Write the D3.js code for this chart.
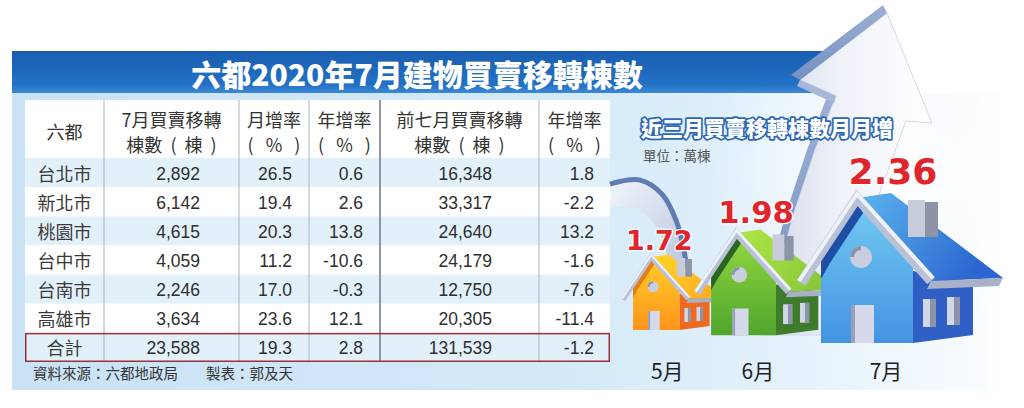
<!DOCTYPE html>
<html>
<head>
<meta charset="utf-8">
<script src="https://cdn.jsdelivr.net/npm/d3@7"></script>
<style>
html, body { margin: 0; padding: 0; background: #fff; }
svg { display: block; }
</style>
</head>
<body>
<svg id="chart" width="1024" height="408"></svg>
<script>
const width = 1024, height = 408;

// ---- data ----
const title = "六都2020年7月建物買賣移轉棟數";
const nb = "\u00a0\u00a0";
const unitBldg = "棟數" + nb + "(" + nb + "棟" + nb + ")";
const unitPct = "(" + nb + "\u00a0%" + nb + "\u00a0)";
const headers = [["六都"], ["7月買賣移轉", unitBldg], ["月增率", unitPct], ["年增率", unitPct], ["前七月買賣移轉", unitBldg], ["年增率", unitPct]];
const cities = ["台北市", "新北市", "桃園市", "台中市", "台南市", "高雄市"];
const julyCount = [2892, 6142, 4615, 4059, 2246, 3634];
const monthRate = [26.5, 19.4, 20.3, 11.2, 17.0, 23.6];
const yearRate = [0.6, 2.6, 13.8, -10.6, -0.3, 12.1];
const ytdCount = [16348, 33317, 24640, 24179, 12750, 20305];
const ytdRate = [1.8, -2.2, 13.2, -1.6, -7.6, -11.4];
const totalRow = ["合計", 23588, 19.3, 2.8, 131539, -1.2];
const source = "資料來源：六都地政局";
const maker = "製表：郭及天";

const chartTitle = "近三月買賣移轉棟數月月增";
const unit = "單位：萬棟";
const months = ["5月", "6月", "7月"];
const monthTotals = [1.72, 1.98, 2.36];

// ---- layout ----
const colEdges = [25, 104, 239, 309, 380, 539, 610];
const valuePad = [0, 39, 17, 17, 47, 16];
const tableTop = 100, headBottom = 158, tableBottom = 362;

const svg = d3.select("#chart");
const defs = svg.append("defs");

function linGrad(id, x1, y1, x2, y2, stops) {
    const g = defs.append("linearGradient").attr("id", id)
        .attr("x1", x1).attr("y1", y1).attr("x2", x2).attr("y2", y2);
    stops.forEach(([o, c, op]) => g.append("stop").attr("offset", o).attr("stop-color", c).attr("stop-opacity", op == null ? 1 : op));
}

linGrad("panel", 0, 0, 1, 0, [[0, "#c9e2f4"], [0.55, "#d3e9f8"], [0.78, "#e3f1fb"], [0.97, "#f7fbfe"], [1, "#ffffff"]]);
linGrad("bar", 0, 0, 0, 1, [[0, "#1a5db0"], [0.8, "#2271c5"], [1, "#3d88d6"]]);
linGrad("arrowBody", 0, 0, 1, 0, [[0, "#d3d9ea"], [0.45, "#eef1f8"], [1, "#ffffff"]]);
linGrad("arrowSide", 0, 0, 0, 1, [[0, "#9cb0d4"], [1, "#7490c2"]]);
linGrad("swoosh", 0, 0, 1, 1, [[0, "#f2f5fa"], [1, "#b9c5df"]]);
const glow = defs.append("radialGradient").attr("id", "glow");
glow.append("stop").attr("offset", 0).attr("stop-color", "#fff").attr("stop-opacity", 0.95);
glow.append("stop").attr("offset", 1).attr("stop-color", "#fff").attr("stop-opacity", 0);

// background panel + title bar
svg.append("rect").attr("x", 12).attr("y", 93).attr("width", 992).attr("height", 297).attr("fill", "url(#panel)");
svg.append("ellipse").attr("cx", 885).attr("cy", 170).attr("rx", 175).attr("ry", 200).attr("fill", "url(#glow)");
svg.append("rect").attr("x", 12).attr("y", 51).attr("width", 835).attr("height", 42).attr("fill", "url(#bar)");
svg.append("text").attr("x", 417).attr("y", 73).attr("text-anchor", "middle").attr("dominant-baseline", "central")
    .attr("font-family", "Noto Sans CJK TC").attr("font-weight", 900).attr("font-size", 30).attr("fill", "#fff")
    .text(title);

// ---- table ----
const rows = cities.map((c, i) => [c, julyCount[i], monthRate[i], yearRate[i], ytdCount[i], ytdRate[i]]).concat([totalRow]);
const y = d3.scaleBand().domain(rows.map(r => r[0])).range([headBottom, tableBottom]);
const fmtInt = d3.format(","), fmtPct = d3.format(".1f");
const fmts = [String, fmtInt, fmtPct, fmtPct, fmtInt, fmtPct];
const clean = s => s.replace("\u2212", "-");

const table = svg.append("g");
table.append("rect").attr("x", colEdges[0]).attr("y", tableTop)
    .attr("width", colEdges[6] - colEdges[0]).attr("height", tableBottom - tableTop).attr("fill", "#fff");

table.selectAll("rect.row").data(rows).join("rect").attr("class", "row")
    .attr("x", colEdges[0]).attr("y", d => y(d[0]))
    .attr("width", colEdges[6] - colEdges[0]).attr("height", y.bandwidth())
    .attr("fill", (d, i) => i % 2 === 0 ? "#e2f0fa" : "#ffffff");

table.selectAll("line.col").data(colEdges.slice(1, 6)).join("line").attr("class", "col")
    .attr("x1", d => d).attr("x2", d => d).attr("y1", tableTop).attr("y2", tableBottom)
    .attr("stroke", (d, i) => i === 3 ? "#8d97a5" : "#aab3bf").attr("stroke-width", (d, i) => i === 3 ? 2 : 1);

headers.forEach((lines, c) => {
    const cx = (colEdges[c] + colEdges[c + 1]) / 2;
    lines.forEach((t, k) => {
        table.append("text").attr("x", cx)
            .attr("y", lines.length === 1 ? 131 : 119 + k * 25)
            .attr("text-anchor", "middle").attr("dominant-baseline", "central")
            .attr("font-family", "Noto Sans CJK TC").attr("font-size", 18).attr("fill", "#333")
            .text(t);
    });
});

rows.forEach(r => {
    const cy = y(r[0]) + y.bandwidth() / 2;
    table.append("text").attr("x", (colEdges[0] + colEdges[1]) / 2).attr("y", cy)
        .attr("text-anchor", "middle").attr("dominant-baseline", "central")
        .attr("font-family", "Noto Sans CJK TC").attr("font-size", 18).attr("fill", "#3a3a3a")
        .text(r[0]);
    for (let c = 1; c < 6; c++) {
        table.append("text").attr("x", colEdges[c + 1] - valuePad[c]).attr("y", cy + 1)
            .attr("text-anchor", "end").attr("dominant-baseline", "central")
            .attr("font-family", "Liberation Sans, Arial, sans-serif").attr("font-size", 17.5).attr("fill", "#2e2e2e")
            .text(clean(fmts[c](r[c])));
    }
});

table.append("rect").attr("x", colEdges[0] + 0.75).attr("y", y(totalRow[0]) + 0.75)
    .attr("width", colEdges[6] - colEdges[0] - 1.5).attr("height", y.bandwidth() - 1.5)
    .attr("fill", "none").attr("stroke", "#9a3039").attr("stroke-width", 1.5);

svg.append("text").attr("x", 33).attr("y", 372).attr("dominant-baseline", "central")
    .attr("font-family", "Noto Sans CJK TC").attr("font-size", 14.5).attr("fill", "#333").text(source);
svg.append("text").attr("x", 206).attr("y", 372).attr("dominant-baseline", "central")
    .attr("font-family", "Noto Sans CJK TC").attr("font-size", 14.5).attr("fill", "#333").text(maker);

// ---- houses chart ----
const hScale = d3.scaleLinear().domain([1.07, 2.36]).range([0, 145]);
const fsScale = d3.scaleLinear().domain([1.72, 2.36]).range([27, 36]);

const palettes = [
    { front: ["#ffcf2a", "#ff941a"], side: "#ef6a1f", roof: ["#ffd728", "#ffae1e"], shade: "#e57d12" },
    { front: ["#94d940", "#4fa52d"], side: "#3e7c2b", roof: ["#b0e645", "#88c93a"], shade: "#2d6622" },
    { front: ["#74ccf3", "#4493e2"], side: "#2f5ec4", roof: ["#5cb6ee", "#2c66d0"], shade: "#1f4ea6" }
];

const houses = monthTotals.map((v, i) => {
    const s = hScale(v) / 145;
    return { month: months[i], value: v, s: s, base: 317 + 26 * s, pal: palettes[i], i: i, x: 633 };
});
for (let i = 1; i < houses.length; i++) {
    houses[i].x = houses[i - 1].x + 92 * houses[i - 1].s + 45 * houses[i].s;
}

houses.forEach(h => {
    linGrad("front" + h.i, 0, 0, 0, 1, [[0, h.pal.front[0]], [1, h.pal.front[1]]]);
    linGrad("roof" + h.i, 0, 0, 1, 0.4, [[0, h.pal.roof[0]], [1, h.pal.roof[1]]]);
});

const line = d3.line();
const poly = pts => line(pts) + "Z";
const curve = d3.line().curve(d3.curveCatmullRom);

// big rising arrow, anchored on the last house
const last = houses[houses.length - 1];
const rel = pts => pts.map(([px, py]) => [last.x + px, last.base + py]);
const arrowG = svg.append("g");
arrowG.append("path").attr("d", poly(rel([[-67, -8], [-51, -73], [-34, -133], [-14, -193], [7, -249], [15, -247], [-6, -193], [-26, -133], [-43, -73], [-59, -8]])))
    .attr("fill", "url(#arrowSide)");
arrowG.append("path").attr("d", poly(rel([[-59, -8], [-43, -73], [-26, -133], [-6, -193], [15, -247], [-21, -263], [66, -330], [111, -220], [85, -222], [67, -173], [47, -118], [29, -53], [21, -8]])))
    .attr("fill", "url(#arrowBody)").attr("stroke", "#d2d8e8").attr("stroke-width", 1);
arrowG.append("path").attr("d", poly(rel([[-21, -263], [66, -330], [62, -338], [-30, -268]])))
    .attr("fill", "url(#arrowSide)");
arrowG.append("path").attr("d", poly(rel([[-21, -263], [15, -247], [13, -240], [-24, -257]])))
    .attr("fill", "#a6b7d8");

// curved swoosh behind the first house
const first = houses[0];
const relF = pts => pts.map(([px, py]) => [first.x + px, first.base + py]);
const swOuter = relF([[-23, -146], [7, -150], [29, -136], [43, -110], [51, -80], [54, -58]]);
const swInner = relF([[36, -58], [32, -84], [22, -105], [8, -119], [-10, -124], [-23, -123]]);
svg.append("path").attr("d", curve(swOuter) + curve(swInner).replace(/^M/, "L") + "Z").attr("fill", "url(#swoosh)");
svg.append("path").attr("d", curve(swOuter)).attr("fill", "none").attr("stroke", "#5f7cb3").attr("stroke-width", 5);

// subtitle
svg.append("text").attr("x", 641).attr("y", 127).attr("dominant-baseline", "central")
    .attr("font-family", "Noto Sans CJK TC").attr("font-weight", 900).attr("font-size", 21)
    .attr("fill", "#fff").attr("stroke", "#2d67b4").attr("stroke-width", 3.5).attr("stroke-linejoin", "round")
    .attr("paint-order", "stroke").text(chartTitle);
svg.append("text").attr("x", 643).attr("y", 155).attr("dominant-baseline", "central")
    .attr("font-family", "Noto Sans CJK TC").attr("font-size", 13.5).attr("fill", "#555").text(unit);

function drawHouse(g, h) {
    const p = h.pal;
    // side wall
    g.append("path").attr("d", poly([[92, 0], [152, -8], [152, -62], [92, -72]])).attr("fill", p.side);
    [[102, -44], [126, -46]].forEach(([wx, wy]) => {
        g.append("rect").attr("x", wx).attr("y", wy).attr("width", 13).attr("height", 28).attr("fill", "#d2d6e6");
        g.append("rect").attr("x", wx + 7).attr("y", wy).attr("width", 6).attr("height", 28).attr("fill", "#8c93aa");
    });
    // front gable wall
    g.append("path").attr("d", poly([[0, 0], [92, 0], [92, -82], [36, -145], [0, -90]])).attr("fill", "url(#front" + h.i + ")");
    g.append("path").attr("d", poly([[0, -64], [0, -90], [36, -145], [42, -130], [9, -80]])).attr("fill", p.shade);
    g.append("circle").attr("cx", 40).attr("cy", -86).attr("r", 11).attr("fill", "#c9cde0");
    g.append("path").attr("d", "M29,-86 A11,11 0 0,1 40,-97 L40,-93 A7,7 0 0,0 33,-86 Z").attr("fill", "#8c93ab");
    g.append("rect").attr("x", 30).attr("y", -38).attr("width", 23).attr("height", 38).attr("fill", "#d6d9ea");
    g.append("rect").attr("x", 30).attr("y", -38).attr("width", 4).attr("height", 38).attr("fill", "#9aa0b8");
    // roof over the side
    g.append("path").attr("d", poly([[36, -145], [70, -150], [182, -65], [110, -62]])).attr("fill", "url(#roof" + h.i + ")");
    g.append("path").attr("d", poly([[110, -62], [182, -65], [178, -57], [106, -54]])).attr("fill", "#a9b1c8");
    // chimney
    g.append("rect").attr("x", 87).attr("y", -143).attr("width", 17).attr("height", 37).attr("fill", "#c8ccda");
    g.append("rect").attr("x", 104).attr("y", -141).attr("width", 13).attr("height", 35).attr("fill", "#8d94a8");
    // gable trim
    g.append("path").attr("d", line([[-20, -60], [36, -145], [110, -62]]))
        .attr("fill", "none").attr("stroke", "#b9c1d6").attr("stroke-width", 10).attr("stroke-linejoin", "miter");
    g.append("path").attr("d", line([[-22, -62], [36, -149], [112, -65]]))
        .attr("fill", "none").attr("stroke", "#eef1f8").attr("stroke-width", 4).attr("stroke-linejoin", "miter");
}

const houseG = svg.append("g");
houses.forEach(h => {
    const g = houseG.append("g").attr("transform", `translate(${h.x},${h.base}) scale(${h.s})`);
    drawHouse(g, h);
});

// value labels
svg.selectAll("text.val").data(houses).join("text").attr("class", "val")
    .attr("x", h => h.x + 92 * h.s - 20)
    .attr("y", h => h.base - hScale(h.value) - 14 * h.s)
    .attr("text-anchor", "middle")
    .attr("font-family", "DejaVu Sans, sans-serif").attr("font-weight", "bold")
    .attr("font-size", h => fsScale(h.value))
    .attr("fill", "#e1252d").attr("stroke", "#fff").attr("stroke-width", 2.5).attr("paint-order", "stroke")
    .text(h => h.value.toFixed(2));

// month labels
svg.selectAll("text.month").data(houses).join("text").attr("class", "month")
    .attr("x", h => h.x + 62 * h.s + 3).attr("y", 370)
    .attr("text-anchor", "middle").attr("dominant-baseline", "central")
    .attr("font-family", "Noto Sans CJK TC").attr("font-size", 21).attr("fill", "#222")
    .text(h => h.month);
</script>
</body>
</html>
